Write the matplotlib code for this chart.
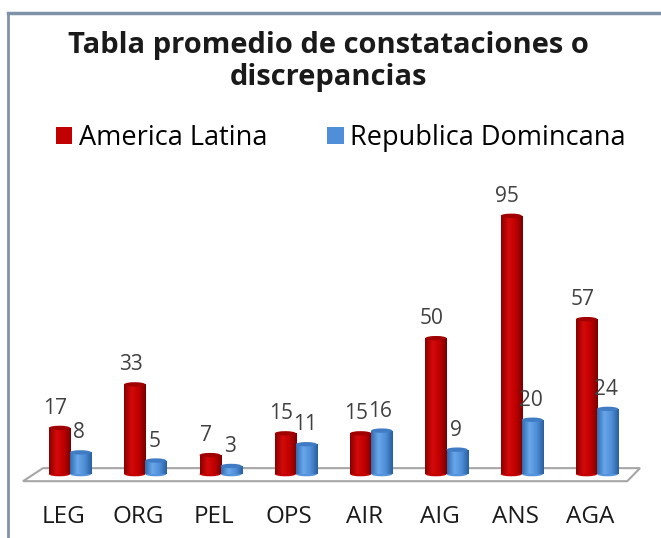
import matplotlib
matplotlib.use("Agg")
import matplotlib.pyplot as plt
import numpy as np
from matplotlib.lines import Line2D
from matplotlib.patches import Polygon, Patch, Ellipse
from matplotlib.colors import LinearSegmentedColormap
import matplotlib.transforms as mtransforms

categories = ["LEG", "ORG", "PEL", "OPS", "AIR", "AIG", "ANS", "AGA"]
america_latina = [17, 33, 7, 15, 15, 50, 95, 57]
republica_dominicana = [8, 5, 3, 11, 16, 9, 20, 24]
series_names = ["America Latina", "Republica Domincana"]
title_lines = ["Tabla promedio de constataciones o", "discrepancias"]

FONT = "Open Sans"
plt.rcParams['font.family'] = [FONT, 'DejaVu Sans']

fig = plt.figure(figsize=(6.61, 5.38), dpi=100)
fig.patch.set_facecolor("white")

ax = fig.add_axes([20/661, (538-485)/538, 625/661, 310/538])
ax.axis("off")

# floor
floor = Polygon([(-0.624, -2.6), (-0.359, 2.2), (7.57, 2.2), (7.40, -2.6)],
                closed=True, facecolor="white", edgecolor="#a6a6a6", lw=1.5, zorder=1)
ax.add_patch(floor)

red_cmap = LinearSegmentedColormap.from_list("r", ["#8a0000", "#d40a0a", "#c00000", "#7a0000"])
blue_cmap = LinearSegmentedColormap.from_list("b", ["#2f6cb0", "#6aa6ea", "#4f8fd8", "#2a5f9e"])

x = np.arange(len(categories))
w = 0.28
grad = np.linspace(0, 1, 64).reshape(1, -1)

def draw(xs, vals, cmap, color, capcolor):
    bars = ax.bar(xs, vals, width=w, color=color, zorder=2, edgecolor="none")
    for b in bars:
        x0, y0 = b.get_x(), b.get_y()
        h = b.get_height()
        im = ax.imshow(grad, cmap=cmap, aspect="auto",
                       extent=(x0, x0 + b.get_width(), y0, y0 + h),
                       zorder=3, origin="lower")
        im.set_clip_path(b)
        ax.add_patch(Ellipse((x0 + b.get_width() / 2, y0 + h), b.get_width(), 1.6,
                             facecolor=capcolor, edgecolor="none", zorder=4))
        ax.add_patch(Ellipse((x0 + b.get_width() / 2, y0), b.get_width(), 1.6,
                             facecolor=cmap(0.6), edgecolor="none", zorder=2.5))
    return bars

draw(x - w/2, america_latina, red_cmap, "#c00000", "#a00000")
draw(x + w/2, republica_dominicana, blue_cmap, "#4f8fd8", "#3f7cc4")
ax.set_xlim(-0.664, 7.636)
ax.set_ylim(-4, 110)

for xi, v in zip(x - w/2, america_latina):
    ax.annotate(str(v), (xi, v), xytext=(-3, 14), textcoords="offset points",
                ha="center", va="center", fontsize=15, color="#404040", zorder=5)
for xi, v in zip(x + w/2, republica_dominicana):
    ax.annotate(str(v), (xi, v), xytext=(-1, 14), textcoords="offset points",
                ha="center", va="center", fontsize=15, color="#404040", zorder=5)

# category labels
trans = mtransforms.blended_transform_factory(ax.transData, fig.transFigure)
for xi, c in zip(x, categories):
    ax.text(xi - 0.09, 1 - 517/538, c, transform=trans, ha="center", va="center",
            fontsize=17.5, color="#1a1a1a")

fig.text(0.497, 1 - 45/538, title_lines[0], ha="center", va="center", fontsize=21,
         fontweight="bold", color="#1a1a1a")
fig.text(0.497, 1 - 78/538, title_lines[1], ha="center", va="center", fontsize=21,
         fontweight="bold", color="#1a1a1a")

handles = [Patch(facecolor="#c00000"), Patch(facecolor="#4f8fd8")]
fig.legend(handles, series_names, loc="center", bbox_to_anchor=(0.516, 1 - 138/538),
           ncol=2, frameon=False, fontsize=19.5, handlelength=0.6, handleheight=0.6,
           handletextpad=0.25, columnspacing=2.2, borderpad=0, borderaxespad=0)

# border
fig.add_artist(Line2D([8/661, 1], [1 - 13/538, 1 - 13/538], transform=fig.transFigure,
                      color="#7f93a8", lw=2.5))
fig.add_artist(Line2D([8/661, 8/661], [0, 1 - 13/538], transform=fig.transFigure,
                      color="#7f93a8", lw=2.0))

fig.savefig("out.png", dpi=100, facecolor="white")
